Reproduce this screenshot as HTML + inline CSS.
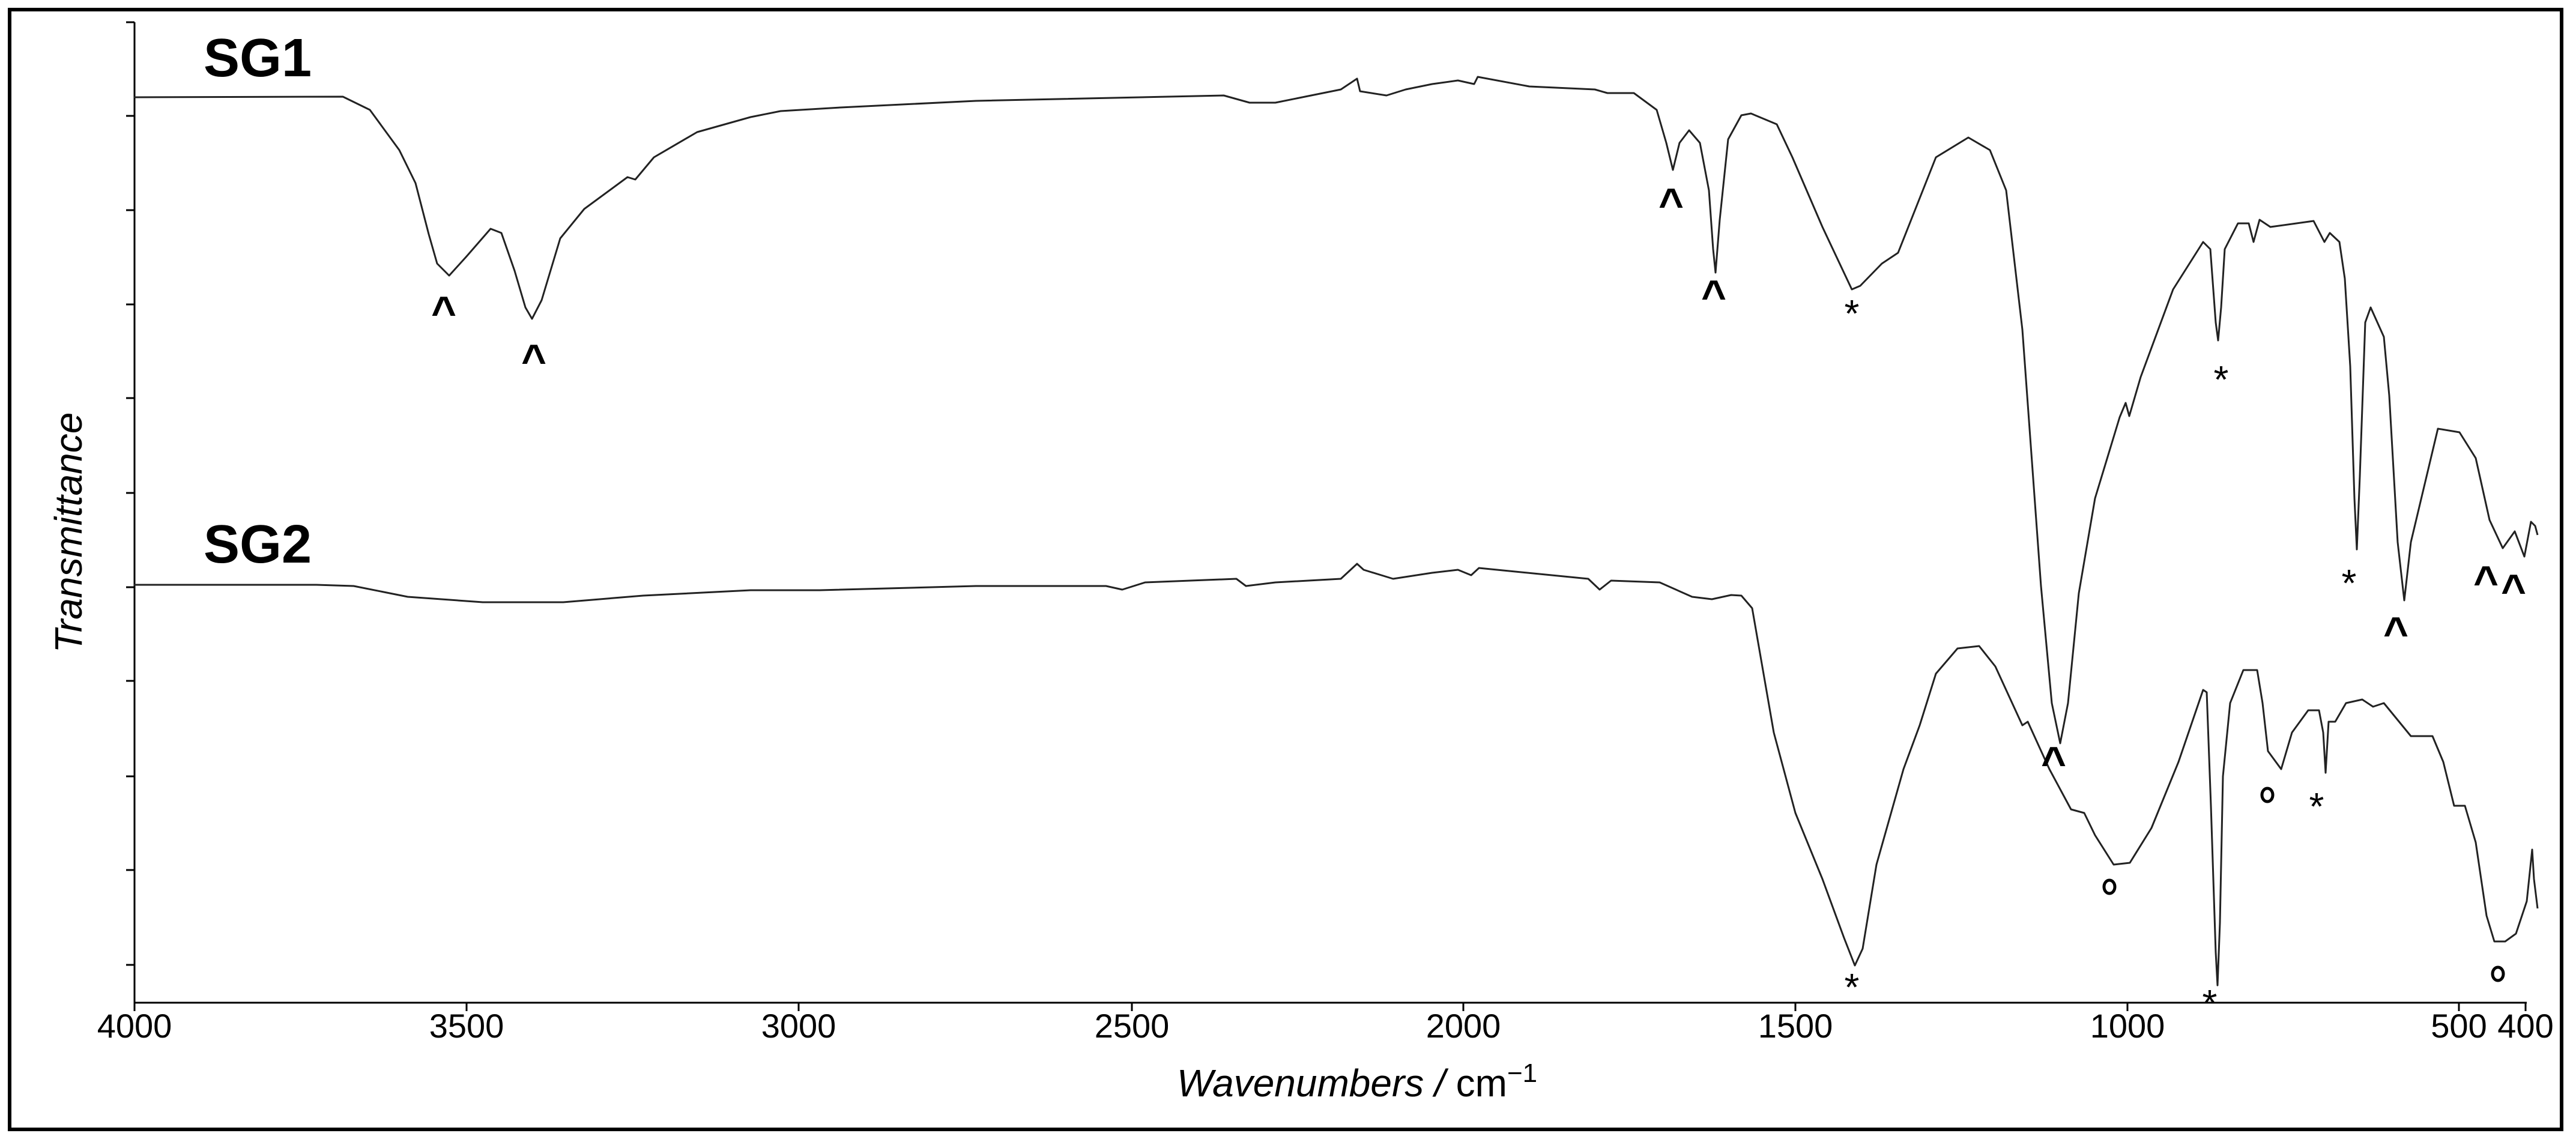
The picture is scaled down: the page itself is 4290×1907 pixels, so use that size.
<!DOCTYPE html>
<html><head><meta charset="utf-8"><style>html,body{margin:0;padding:0;background:#fff}svg{display:block}</style></head>
<body>
<svg xmlns="http://www.w3.org/2000/svg" width="4290" height="1907" viewBox="0 0 4290 1907">
<rect x="0" y="0" width="4290" height="1907" fill="#fff"/>
<rect x="16" y="16" width="4250" height="1865" fill="none" stroke="#000" stroke-width="6"/>
<g stroke="#000" stroke-width="3" fill="none">
<line x1="224" y1="37" x2="224" y2="1670"/>
<line x1="224" y1="1670" x2="4208" y2="1670"/>
<line x1="210" y1="37" x2="224" y2="37"/>
<line x1="210" y1="193" x2="224" y2="193"/>
<line x1="210" y1="350" x2="224" y2="350"/>
<line x1="210" y1="507" x2="224" y2="507"/>
<line x1="210" y1="663" x2="224" y2="663"/>
<line x1="210" y1="821" x2="224" y2="821"/>
<line x1="210" y1="978" x2="224" y2="978"/>
<line x1="210" y1="1134" x2="224" y2="1134"/>
<line x1="210" y1="1293" x2="224" y2="1293"/>
<line x1="210" y1="1449" x2="224" y2="1449"/>
<line x1="210" y1="1607" x2="224" y2="1607"/>
<line x1="224" y1="1670" x2="224" y2="1684"/>
<line x1="777" y1="1670" x2="777" y2="1684"/>
<line x1="1330" y1="1670" x2="1330" y2="1684"/>
<line x1="1885" y1="1670" x2="1885" y2="1684"/>
<line x1="2437" y1="1670" x2="2437" y2="1684"/>
<line x1="2990" y1="1670" x2="2990" y2="1684"/>
<line x1="3543" y1="1670" x2="3543" y2="1684"/>
<line x1="4095" y1="1670" x2="4095" y2="1684"/>
<line x1="4206" y1="1670" x2="4206" y2="1684"/>
</g>
<g font-family="Liberation Sans, sans-serif" font-size="56" text-anchor="middle" fill="#000">
<text x="224" y="1728">4000</text>
<text x="777" y="1728">3500</text>
<text x="1330" y="1728">3000</text>
<text x="1885" y="1728">2500</text>
<text x="2437" y="1728">2000</text>
<text x="2990" y="1728">1500</text>
<text x="3543" y="1728">1000</text>
<text x="4095" y="1728">500</text>
<text x="4206" y="1728">400</text>
</g>
<text x="2260" y="1826" font-family="Liberation Sans, sans-serif" font-size="64" text-anchor="middle"><tspan font-style="italic">Wavenumbers / </tspan> cm<tspan font-size="44" dy="-24">−1</tspan></text>
<text transform="translate(136,887) rotate(-90)" font-family="Liberation Sans, sans-serif" font-size="64" font-style="italic" text-anchor="middle">Transmittance</text>
<text x="339" y="127" font-family="Liberation Sans, sans-serif" font-size="90" font-weight="bold">SG1</text>
<text x="339" y="937" font-family="Liberation Sans, sans-serif" font-size="90" font-weight="bold">SG2</text>
<g fill="none" stroke="#222" stroke-width="3" stroke-linejoin="round">
<polyline points="223,162 571,161 616,183 665,250 692,305 714,390 728,439 748,459 777,427 817,381 835,388 857,451 875,512 886,531 902,500 933,397 973,348 1045,295 1058,299 1089,262 1161,220 1250,195 1300,185 1400,179 1625,168 2038,159 2081,171 2124,171 2233,149 2260,131 2265,152 2309,159 2341,149 2385,140 2428,134 2455,140 2461,128 2547,144 2656,149 2677,155 2721,155 2759,183 2775,238 2786,283 2797,238 2813,217 2831,238 2846,317 2853,415 2857,454 2864,366 2878,232 2900,192 2916,189 2959,207 2985,262 3035,378 3084,482 3098,476 3134,439 3161,421 3224,262 3278,229 3314,250 3341,317 3368,549 3399,976 3417,1171 3431,1238 3444,1171 3462,988 3489,830 3530,695 3540,671 3546,693 3565,628 3619,482 3669,403 3681,415 3690,537 3694,567 3699,512 3705,415 3727,372 3745,372 3753,403 3763,366 3781,378 3853,368 3871,403 3880,388 3896,403 3905,464 3914,610 3921,830 3925,915 3930,793 3939,537 3948,512 3970,561 3979,659 3993,903 4004,1000 4015,903 4060,714 4096,720 4123,763 4146,866 4168,913 4188,885 4204,927 4215,869 4222,876 4226,891"/>
<polyline points="223,974 527,974 589,976 679,994 804,1003 938,1003 1071,992 1250,983 1365,983 1625,976 1842,976 1869,982 1907,970 2059,964 2075,976 2124,970 2233,964 2260,939 2271,949 2320,964 2385,954 2428,949 2450,958 2463,946 2645,964 2664,982 2683,967 2764,970 2818,994 2851,998 2883,991 2900,992 2918,1013 2954,1220 2990,1354 3035,1464 3071,1562 3089,1608 3102,1580 3125,1440 3170,1281 3197,1208 3224,1122 3260,1080 3296,1076 3323,1110 3368,1208 3377,1202 3413,1281 3449,1348 3471,1354 3489,1391 3520,1440 3547,1437 3583,1379 3628,1269 3669,1149 3675,1153 3682,1342 3690,1586 3693,1641 3697,1537 3702,1293 3714,1171 3736,1116 3759,1116 3768,1171 3777,1251 3799,1281 3817,1220 3844,1183 3862,1183 3869,1220 3873,1287 3878,1202 3889,1202 3907,1171 3934,1165 3952,1177 3970,1171 4015,1226 4051,1226 4069,1269 4087,1342 4105,1342 4123,1403 4141,1525 4154,1568 4172,1568 4190,1555 4208,1501 4217,1415 4220,1464 4226,1513"/>
</g>
<g font-family="Liberation Sans, sans-serif" font-size="72" font-weight="bold" text-anchor="middle" fill="#000">
<text x="739" y="544">^</text>
<text x="889" y="624">^</text>
<text x="2783" y="364">^</text>
<text x="2854" y="517">^</text>
<text x="3990" y="1078">^</text>
<text x="4140" y="993">^</text>
<text x="4186" y="1007">^</text>
<text x="3420" y="1294">^</text>
</g>
<g font-family="Liberation Sans, sans-serif" font-size="64" text-anchor="middle" fill="#000">
<text x="3084" y="544">*</text>
<text x="3699" y="654">*</text>
<text x="3912" y="993">*</text>
<text x="3084" y="1666">*</text>
<text x="3680" y="1693">*</text>
<text x="3858" y="1365">*</text>
</g>
<g fill="none" stroke="#000" stroke-width="5">
<ellipse cx="3513" cy="1477" rx="9" ry="11"/>
<ellipse cx="3776" cy="1324" rx="9" ry="11"/>
<ellipse cx="4160" cy="1622" rx="9" ry="11"/>
</g>
</svg>
</body></html>
